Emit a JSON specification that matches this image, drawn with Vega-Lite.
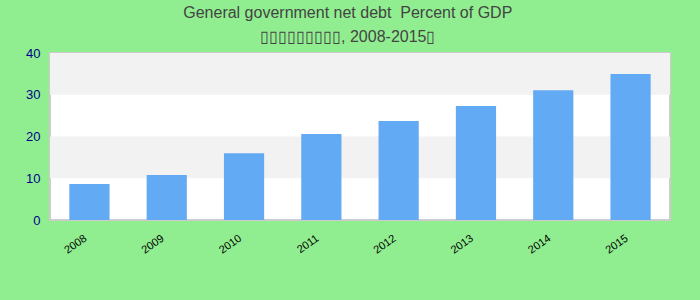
{
  "$schema": "https://vega.github.io/schema/vega-lite/v6.json",
  "width": 620,
  "height": 167,
  "autosize": {"type": "none"},
  "padding": {"left": 50, "top": 53, "right": 30, "bottom": 80},
  "background": "#90ee90",
  "title": {
    "text": "General government net debt \u00a0Percent of GDP",
    "subtitle": "▯▯▯▯▯▯▯▯▯, 2008-2015▯",
    "anchor": "middle",
    "frame": "bounds",
    "font": "Liberation Sans",
    "fontSize": 16,
    "fontWeight": "normal",
    "color": "#444444",
    "subtitleFont": "Liberation Sans",
    "subtitleFontSize": 16,
    "subtitleColor": "#444444",
    "subtitlePadding": 8,
    "offset": 2
  },
  "config": {
    "view": {"stroke": "#cccccc", "strokeWidth": 2, "fill": "#ffffff"},
    "font": "Liberation Sans"
  },
  "datasets": {
    "bands": [
      {"lo": 10, "hi": 20},
      {"lo": 30, "hi": 40}
    ],
    "debt": [
      {"year": "2008", "value": 8.6},
      {"year": "2009", "value": 10.8},
      {"year": "2010", "value": 16.0},
      {"year": "2011", "value": 20.6},
      {"year": "2012", "value": 23.7},
      {"year": "2013", "value": 27.3},
      {"year": "2014", "value": 31.1},
      {"year": "2015", "value": 35.0}
    ]
  },
  "layer": [
    {
      "data": {"name": "bands"},
      "mark": {"type": "rect", "color": "#f2f2f2"},
      "encoding": {
        "y": {"field": "lo", "type": "quantitative", "scale": {"domain": [0, 40]}},
        "y2": {"field": "hi"}
      }
    },
    {
      "data": {"name": "debt"},
      "mark": {"type": "bar", "color": "#63aaf5"},
      "encoding": {
        "x": {
          "field": "year",
          "type": "nominal",
          "title": null,
          "scale": {"paddingInner": 0.48, "paddingOuter": 0.25},
          "axis": {
            "labelAngle": -35,
            "labelFontSize": 11,
            "labelColor": "#000000",
            "labelPadding": 12,
            "labelOffset": -7,
            "ticks": false,
            "domain": false
          }
        },
        "y": {
          "field": "value",
          "type": "quantitative",
          "title": null,
          "scale": {"domain": [0, 40]},
          "axis": {
            "values": [0, 10, 20, 30, 40],
            "labelFontSize": 13,
            "labelColor": "#00008b",
            "labelPadding": 10,
            "ticks": false,
            "domain": false,
            "grid": false
          }
        }
      }
    }
  ]
}
